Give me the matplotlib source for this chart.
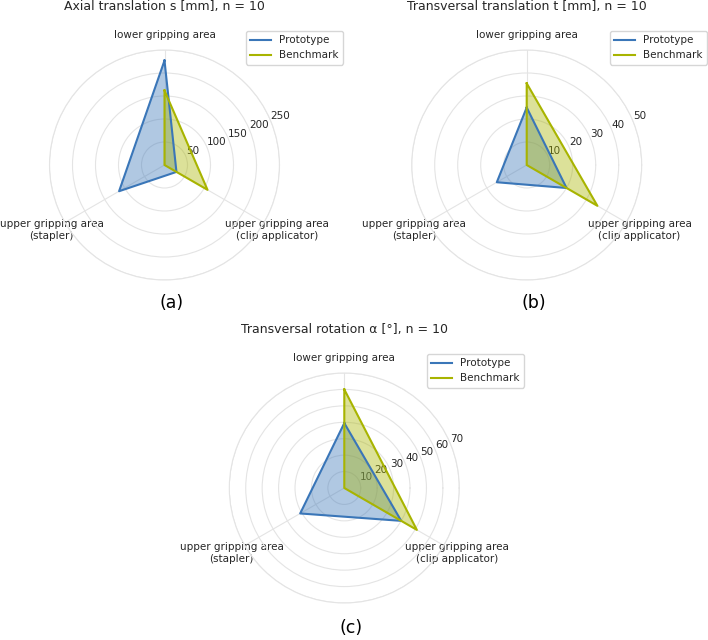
import numpy as np
import matplotlib
matplotlib.use('Agg')
import matplotlib.pyplot as plt

# ---- data ----
categories = ['lower gripping area',
              'upper gripping area\n(stapler)',
              'upper gripping area\n(clip applicator)']
series_names = ['Prototype', 'Benchmark']

axial_prototype = [227, 114, 30]
axial_benchmark = [162, 0, 108]
transversal_prototype = [25, 15, 20]
transversal_benchmark = [35.5, 0, 35.5]
rotation_prototype = [39.5, 31, 40]
rotation_benchmark = [60, 0, 51]

titles = ['Axial translation s [mm], n = 10',
          'Transversal translation t [mm], n = 10',
          'Transversal rotation α [°], n = 10']
panel_labels = ['(a)', '(b)', '(c)']
rticks_a = [50, 100, 150, 200, 250]
rticks_b = [10, 20, 30, 40, 50]
rticks_c = [10, 20, 30, 40, 50, 60, 70]
category_angles_deg = [90, 210, 330]

# ---- style ----
W, H = 708, 640
DPI = 100
blue = '#3a76b8'
olive = '#a8b400'
grid_col = '#e4e4e4'
text_col = '#262626'
fs_tick = 7.5
fs_title = 9
fs_label = 12.5

plt.rcParams['font.family'] = ['DejaVu Sans']
fig = plt.figure(figsize=(W / DPI, H / DPI), dpi=DPI)

R = 115  # pixel radius of polar axes


def px_axes(cx, cy):
    return [(cx - R) / W, 1 - (cy + R) / H, 2 * R / W, 2 * R / H]


panels = [
    dict(center=(164.5, 165), proto=axial_prototype, bench=axial_benchmark,
         rticks=rticks_a, title=titles[0], label=panel_labels[0],
         title_y=6.5, label_pos=(172, 303), legend_corner=(343, 31)),
    dict(center=(526.7, 165), proto=transversal_prototype, bench=transversal_benchmark,
         rticks=rticks_b, title=titles[1], label=panel_labels[1],
         title_y=6.5, label_pos=(534, 303), legend_corner=(707, 31)),
    dict(center=(344.3, 488), proto=rotation_prototype, bench=rotation_benchmark,
         rticks=rticks_c, title=titles[2], label=panel_labels[2],
         title_y=329, label_pos=(351.5, 628), legend_corner=(524, 354)),
]

theta = np.deg2rad(category_angles_deg)

for p in panels:
    ax = fig.add_axes(px_axes(*p['center']), projection='polar')
    ax.set_facecolor('white')
    ax.set_axisbelow(True)
    closed = np.concatenate([theta, theta[:1]])
    for vals, col, name in [(p['proto'], blue, series_names[0]),
                            (p['bench'], olive, series_names[1])]:
        v = list(vals) + [vals[0]]
        ax.plot(closed, v, color=col, lw=1.5, label=name, zorder=3)
        ax.fill(closed, v, color=col, alpha=0.4, zorder=2, lw=0)
    ax.set_ylim(0, p['rticks'][-1])
    ax.set_yticks(p['rticks'])
    ax.set_yticklabels([str(t) for t in p['rticks']], fontsize=fs_tick, color=text_col)
    ax.set_rlabel_position(22.5)
    ax.set_xticks(theta)
    ax.set_xticklabels(categories, fontsize=fs_tick, color=text_col)
    ax.tick_params(axis='x', pad=0.5)
    ax.grid(True, color=grid_col, lw=0.8)
    ax.spines['polar'].set_color(grid_col)
    ax.spines['polar'].set_linewidth(0.8)

    cx, cy = p['center']
    fig.text(cx / W, 1 - p['title_y'] / H, p['title'], ha='center', va='center',
             fontsize=fs_title, color=text_col)
    lx, ly = p['label_pos']
    fig.text(lx / W, 1 - ly / H, p['label'], ha='center', va='center',
             fontsize=fs_label, color='black')
    lcx, lcy = p['legend_corner']
    leg = ax.legend(loc='upper right', bbox_to_anchor=(lcx / W, 1 - lcy / H),
                    bbox_transform=fig.transFigure, borderaxespad=0,
                    fontsize=fs_tick, frameon=True, fancybox=True,
                    edgecolor='#cccccc', framealpha=0.8)
    for t in leg.get_texts():
        t.set_color(text_col)

fig.savefig('out.png', dpi=DPI, facecolor='white')
